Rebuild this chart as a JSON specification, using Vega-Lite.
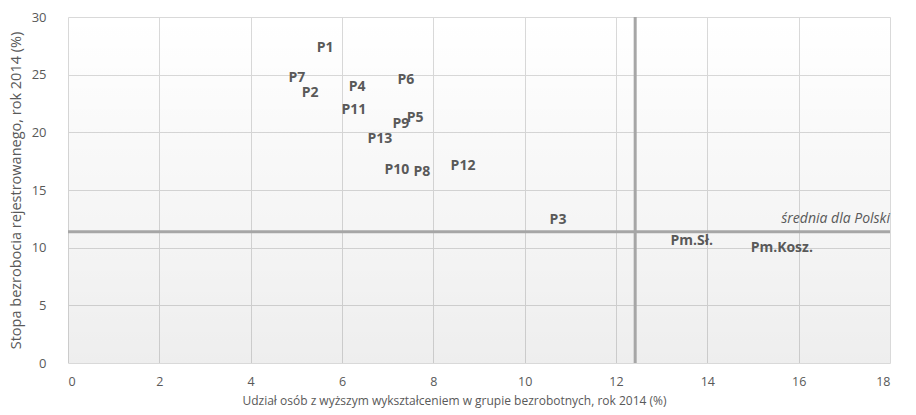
{
  "$schema": "https://vega.github.io/schema/vega-lite/v6.json",
  "width": 822,
  "height": 346,
  "autosize": "none",
  "padding": {"left": 68, "top": 17, "right": 26, "bottom": 52},
  "background": "white",
  "config": {
    "view": {"stroke": null},
    "font": "Open Sans",
    "axis": {
      "grid": true,
      "gridColor": "#d9d9d9",
      "gridWidth": 1,
      "domain": false,
      "ticks": false,
      "labelColor": "#595959",
      "labelFontSize": 12.5,
      "titleColor": "#595959",
      "titleFontSize": 12,
      "titleFontWeight": "normal"
    }
  },
  "layer": [
    {
      "data": {"values": [{"x0": 0, "x1": 18, "y0": 0, "y1": 30}]},
      "mark": {
        "type": "rect",
        "color": {
          "gradient": "linear",
          "x1": 0, "y1": 0, "x2": 0, "y2": 1,
          "stops": [
            {"offset": 0, "color": "rgba(0,0,0,0)"},
            {"offset": 1, "color": "rgba(0,0,0,0.065)"}
          ]
        }
      },
      "encoding": {
        "x": {"field": "x0", "type": "quantitative", "scale": {"domain": [0, 18]},
          "axis": {"values": [0,2,4,6,8,10,12,14,16,18], "title": "Udział osób z wyższym wykształceniem w grupie bezrobotnych, rok 2014 (%)", "labelPadding": 12, "titlePadding": 8, "titleX": 386}},
        "x2": {"field": "x1"},
        "y": {"field": "y0", "type": "quantitative", "scale": {"domain": [0, 30]},
          "axis": {"values": [0,5,10,15,20,25,30], "title": "Stopa bezrobocia rejestrowanego, rok 2014 (%)", "labelPadding": 22, "titlePadding": 8, "titleFontSize": 14.5, "labelFontSize": 13}},
        "y2": {"field": "y1"}
      }
    },
    {
      "data": {"values": [{"avgx": 12.42}]},
      "mark": {"type": "rule", "color": "#a6a6a6", "strokeWidth": 3},
      "encoding": {"x": {"field": "avgx", "type": "quantitative"}}
    },
    {
      "data": {"values": [{"avgy": 11.38}]},
      "mark": {"type": "rule", "color": "#a6a6a6", "strokeWidth": 3},
      "encoding": {"y": {"field": "avgy", "type": "quantitative"}}
    },
    {
      "data": {"values": [{"x": 18, "y": 12.5, "label": "średnia dla Polski"}]},
      "mark": {"type": "text", "align": "right", "baseline": "middle", "fontStyle": "italic", "fontSize": 14, "color": "#595959"},
      "encoding": {
        "x": {"field": "x", "type": "quantitative"},
        "y": {"field": "y", "type": "quantitative"},
        "text": {"field": "label"}
      }
    },
    {
      "data": {"values": [
        {"name": "P1", "x": 5.63, "y": 27.3},
        {"name": "P7", "x": 5.01, "y": 24.7},
        {"name": "P2", "x": 5.30, "y": 23.4},
        {"name": "P4", "x": 6.33, "y": 23.9},
        {"name": "P6", "x": 7.40, "y": 24.5},
        {"name": "P11", "x": 6.26, "y": 21.9},
        {"name": "P9", "x": 7.29, "y": 20.7},
        {"name": "P5", "x": 7.60, "y": 21.2},
        {"name": "P13", "x": 6.83, "y": 19.4},
        {"name": "P10", "x": 7.20, "y": 16.7},
        {"name": "P8", "x": 7.75, "y": 16.6},
        {"name": "P12", "x": 8.65, "y": 17.1},
        {"name": "P3", "x": 10.73, "y": 12.4},
        {"name": "Pm.Sł.", "x": 13.66, "y": 10.6},
        {"name": "Pm.Kosz.", "x": 15.63, "y": 10.0}
      ]},
      "mark": {"type": "text", "fontWeight": "bold", "fontSize": 14, "color": "#595959", "baseline": "middle", "align": "center"},
      "encoding": {
        "x": {"field": "x", "type": "quantitative"},
        "y": {"field": "y", "type": "quantitative"},
        "text": {"field": "name"}
      }
    }
  ]
}
